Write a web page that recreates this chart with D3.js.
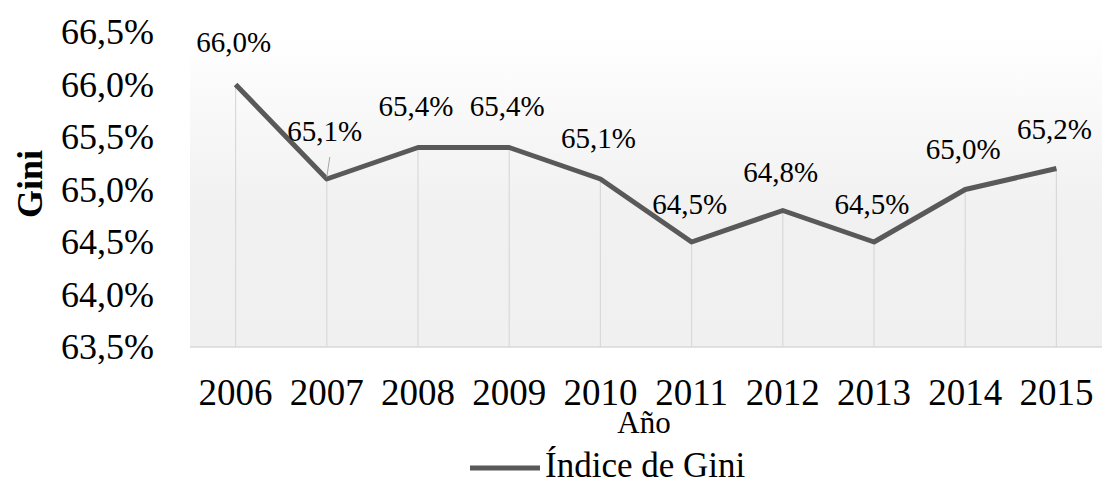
<!DOCTYPE html>
<html>
<head>
<meta charset="utf-8">
<script src="https://cdn.jsdelivr.net/npm/d3@7"></script>
<style>
  body { margin: 0; background: #fff; }
  svg text { font-family: 'Liberation Serif', 'Times New Roman', serif; fill: #000; }
</style>
</head>
<body>
<div id="chart"></div>
<script>
// Índice de Gini por año (valores en %)
const years = ['2006', '2007', '2008', '2009', '2010', '2011', '2012', '2013', '2014', '2015'];
const gini = [66.0, 65.1, 65.4, 65.4, 65.1, 64.5, 64.8, 64.5, 65.0, 65.2];
const yTicks = [63.5, 64.0, 64.5, 65.0, 65.5, 66.0, 66.5];
const labelLift = [33, 38, 32, 32, 31, 28, 29, 28, 31, 30];

const width = 1102;
const height = 485;
const plot = { left: 190, right: 1102, top: 32, bottom: 347 };

const fmt = (v) => v.toFixed(1).replace('.', ',') + '%';

const svg = d3.select('#chart').append('svg').attr('width', width).attr('height', height);

const x = d3.scaleBand().domain(years).range([plot.left, plot.right]);
const y = d3.scaleLinear().domain([63.5, 66.5]).range([plot.bottom, plot.top]);

const grad = svg.append('defs').append('linearGradient')
  .attr('id', 'bg').attr('x1', 0).attr('y1', 0).attr('x2', 0).attr('y2', 1);
grad.append('stop').attr('offset', '0%').attr('stop-color', '#ffffff');
grad.append('stop').attr('offset', '55%').attr('stop-color', '#f1f1f1');
grad.append('stop').attr('offset', '100%').attr('stop-color', '#f0f0f0');

svg.append('rect')
  .attr('x', plot.left).attr('y', plot.top)
  .attr('width', plot.right - plot.left).attr('height', plot.bottom - plot.top)
  .attr('fill', 'url(#bg)');

const cx = (d) => x(d) + x.bandwidth() / 2;

// drop lines
svg.append('g')
  .selectAll('line')
  .data(years)
  .join('line')
  .attr('x1', cx).attr('x2', cx)
  .attr('y1', (d, i) => y(gini[i]))
  .attr('y2', plot.bottom)
  .attr('stroke', '#d9d9d9')
  .attr('stroke-width', 1.2);

// bottom axis line
svg.append('line')
  .attr('x1', plot.left).attr('x2', plot.right)
  .attr('y1', plot.bottom).attr('y2', plot.bottom)
  .attr('stroke', '#d9d9d9').attr('stroke-width', 1.5);

// y axis labels
svg.append('g')
  .attr('transform', `translate(${plot.left - 36},0)`)
  .call(d3.axisLeft(y).tickValues(yTicks).tickSize(0).tickPadding(0).tickFormat(fmt))
  .call((g) => g.select('.domain').remove())
  .selectAll('text')
  .attr('font-size', 36)
  .attr('text-anchor', 'end')
  .attr('x', 0);

// x axis labels
svg.append('g')
  .attr('transform', `translate(0,${plot.bottom})`)
  .call(d3.axisBottom(x).tickSize(0))
  .call((g) => g.select('.domain').remove())
  .selectAll('text')
  .attr('font-size', 37)
  .attr('y', 58)
  .attr('dy', 0);

// series line
svg.append('path')
  .datum(gini)
  .attr('fill', 'none')
  .attr('stroke', '#595959')
  .attr('stroke-width', 5)
  .attr('stroke-linejoin', 'round')
  .attr('d', d3.line().x((d, i) => cx(years[i])).y((d) => y(d)));

// leader line for 2007
svg.append('line')
  .attr('x1', cx('2007') + 3).attr('x2', cx('2007'))
  .attr('y1', y(gini[1]) - labelLift[1] + 16).attr('y2', y(gini[1]) - 2)
  .attr('stroke', '#a6a6a6').attr('stroke-width', 1);

// data labels
svg.append('g')
  .selectAll('text')
  .data(gini)
  .join('text')
  .attr('x', (d, i) => cx(years[i]) - 2)
  .attr('y', (d, i) => y(d) - labelLift[i])
  .attr('text-anchor', 'middle')
  .attr('font-size', 29)
  .text(fmt);

// axis titles
svg.append('text')
  .attr('transform', 'translate(42,184) rotate(-90)')
  .attr('text-anchor', 'middle')
  .attr('font-size', 36)
  .attr('font-weight', 'bold')
  .text('Gini');

svg.append('text')
  .attr('x', 644).attr('y', 433)
  .attr('text-anchor', 'middle')
  .attr('font-size', 31)
  .text('Año');

// legend
svg.append('line')
  .attr('x1', 470).attr('x2', 540)
  .attr('y1', 468).attr('y2', 468)
  .attr('stroke', '#595959').attr('stroke-width', 5);

svg.append('text')
  .attr('x', 545).attr('y', 477)
  .attr('font-size', 35)
  .text('Índice de Gini');
</script>
</body>
</html>
